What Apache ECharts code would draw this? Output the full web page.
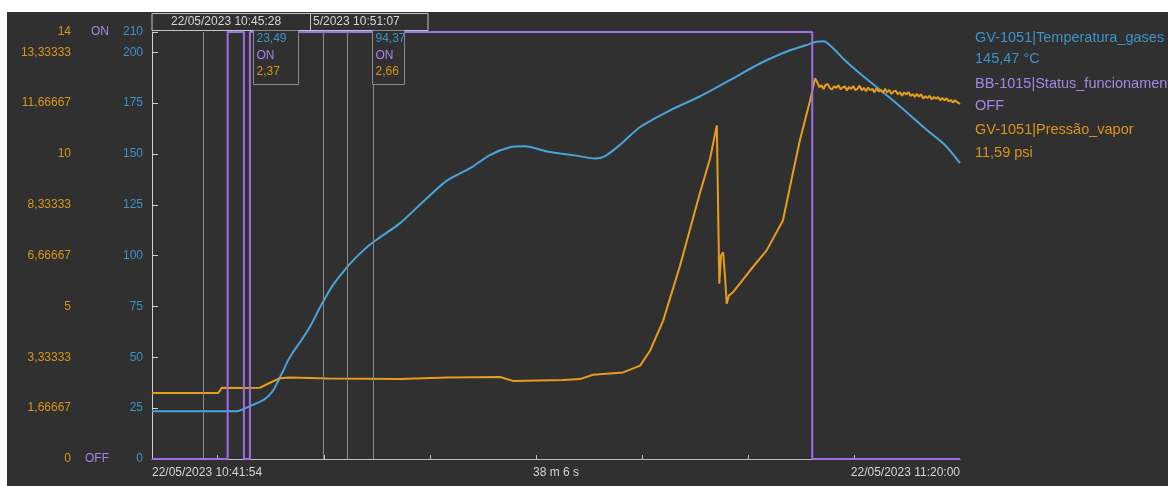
<!DOCTYPE html>
<html><head><meta charset="utf-8">
<script src="https://cdn.jsdelivr.net/npm/echarts@6/dist/echarts.min.js"></script>
<style>
html,body{margin:0;padding:0;background:#ffffff;}
#c{position:absolute;left:7px;top:12px;width:1161px;height:474px;background:#303030;}
</style></head><body><div id="c"></div>
<script>
// ---- x axis (seconds elapsed since 22/05/2023 10:41:54) ----
const startLabel = '22/05/2023 10:41:54';
const endLabel = '22/05/2023 11:20:00';
const spanLabel = '38 m 6 s';
const xMax = 2286;
const xLabelValues = [0, 1143, 2286];
const xTickValues = [186, 486, 786, 1086, 1386, 1686, 1986];

// ---- y axis ticks ----
const tempTicks = [0, 25, 50, 75, 100, 125, 150, 175, 200, 210];
const pressureTicks = [0, 1.66667, 3.33333, 5, 6.66667, 8.33333, 10, 11.66667, 13.33333, 14];
const statusTicks = [0, 1];
const statusNames = ['OFF', 'ON'];

// ---- Temperatura_gases (°C) ----
const tempTime = [0, 136, 240, 277, 320, 342, 356, 371, 385, 399, 413, 427, 450, 475, 510, 552, 588, 617, 645, 702, 770, 835, 900, 956, 1013, 1055, 1118, 1154, 1200, 1253, 1282, 1324, 1381, 1466, 1551, 1635, 1720, 1805, 1850, 1880, 1900, 1924, 1961, 2003, 2096, 2193, 2244, 2286];
const tempValue = [23.5, 23.5, 23.5, 26.0, 29.6, 33.5, 38.0, 43.4, 48.5, 52.5, 56.0, 59.5, 66.0, 74.5, 85.0, 94.4, 101, 105.5, 109, 116, 127, 137, 143, 149.5, 153.3, 153.8, 151.2, 150.3, 149.2, 147.8, 149, 154.5, 163.3, 171.5, 178.4, 186.3, 194.5, 201, 203.5, 205.2, 205.4, 202.5, 196, 189.6, 176.4, 161.7, 154.3, 145.5];

// ---- Pressão_vapor (psi) ----
const pressTime = [0, 187, 198, 260, 306, 334, 362, 390, 500, 702, 835, 985, 1021, 1163, 1211, 1248, 1333, 1381, 1409, 1446, 1494, 1550, 1579, 1598, 1605, 1610, 1616, 1621, 1626, 1632, 1644, 1692, 1739, 1785, 1813, 1833, 1862, 1876,
  1882, 1888, 1894, 1900, 1906, 1912, 1918, 1924, 1930, 1936, 1942, 1948, 1954, 1960, 1966, 1972, 1978, 1984, 1990, 1996, 2002, 2008, 2014, 2020, 2026, 2032, 2038, 2044, 2050, 2056, 2062, 2068, 2074, 2080, 2086, 2092, 2098, 2104, 2110, 2116, 2122, 2128, 2134, 2140, 2146, 2152, 2158, 2164, 2170, 2176, 2182, 2188, 2194, 2200, 2206, 2212, 2218, 2224, 2230, 2236, 2242, 2248, 2254, 2260, 2266, 2272, 2278, 2286];
const pressValue = [2.16, 2.16, 2.34, 2.33, 2.34, 2.50, 2.65, 2.67, 2.64, 2.62, 2.67, 2.69, 2.56, 2.59, 2.62, 2.76, 2.84, 3.06, 3.55, 4.53, 6.34, 8.71, 9.86, 10.94, 5.75, 6.67, 6.78, 6.0, 5.09, 5.36, 5.47, 6.18, 6.84, 7.82, 9.37, 10.45, 11.76, 12.48,
  12.36, 12.19, 12.25, 12.13, 12.27, 12.29, 12.16, 12.12, 12.22, 12.17, 12.26, 12.12, 12.18, 12.22, 12.08, 12.20, 12.13, 12.23, 12.09, 12.14, 12.24, 12.09, 12.17, 12.06, 12.18, 12.09, 12.14, 12.02, 12.16, 12.05, 12.10, 12.01, 12.14, 12.02, 12.10, 11.97, 12.05, 12.08, 11.96, 12.03, 11.91, 12.02, 11.95, 12.03, 11.90, 11.96, 11.87, 11.97, 11.88, 11.96, 11.82, 11.90, 11.83, 11.91, 11.79, 11.87, 11.81, 11.87, 11.76, 11.84, 11.76, 11.83, 11.72, 11.77, 11.69, 11.76, 11.70, 11.64];

// ---- Status_funcionamento (0 = OFF, 1 = ON) ----
const statusTime = [0, 214, 260, 277, 1868, 2286];
const statusValue = [0, 1, 0, 1, 0, 0];

// ---- cursors / readouts ----
const cursorTimes = [144, 214, 484, 553, 625];
const readoutTimes = [214, 553];
const readoutTemp = ['23,49', '94,37'];
const readoutStatus = ['ON', 'ON'];
const readoutPress = ['2,37', '2,66'];
const cursorHeader = ['22/05/2023 10:45:28', '5/2023 10:51:07'];

// ---- legend ----
const legendNames = ['GV-1051|Temperatura_gases', 'BB-1015|Status_funcionamento', 'GV-1051|Pressão_vapor'];
const legendValues = ['145,47 °C', 'OFF', '11,59 psi'];

const C_BLUE = '#4aa3da', C_BLUE_T = '#3d92c9';
const C_ORANGE = '#e59d1e', C_ORANGE_T = '#d8951c';
const C_PURPLE = '#9d6fe6', C_PURPLE_T = '#a585e6';
const C_TEXT = '#d6d6d6', C_GRAY = '#8a8a8a';
const FONT = '"Liberation Sans", Arial, sans-serif';

const zip = (a, b) => a.map((t, i) => [t, b[i]]);
const fmtP = v => (Math.abs(v - Math.round(v)) < 1e-6 ? String(Math.round(v)) : v.toFixed(5).replace('.', ','));

const chart = echarts.init(document.getElementById('c'), null, {renderer: 'canvas'});
const option = {
  backgroundColor: '#303030',
  animation: false,
  grid: {left: 145, top: 20, right: 208, bottom: 27, containLabel: false},
  xAxis: {
    type: 'value', min: 0, max: xMax,
    axisLine: {show: true, lineStyle: {color: '#bdbdbd', width: 1}},
    axisTick: {show: true, inside: true, length: 4, customValues: xTickValues, lineStyle: {color: '#bdbdbd'}},
    axisLabel: {
      show: true, customValues: xLabelValues, margin: 8, color: C_TEXT, fontFamily: FONT, fontSize: 12,
      alignMinLabel: 'left', alignMaxLabel: 'right',
      formatter: v => (v === 0 ? startLabel : (v === xMax ? endLabel : spanLabel))
    },
    splitLine: {show: false}
  },
  yAxis: [
    {
      type: 'value', min: 0, max: 210, position: 'left',
      axisLine: {show: true, lineStyle: {color: '#d0d0d0', width: 1}},
      axisTick: {show: true, inside: true, length: 6, customValues: tempTicks, lineStyle: {color: '#d0d0d0'}},
      axisLabel: {customValues: tempTicks, margin: 9, color: C_BLUE_T, fontFamily: FONT, fontSize: 12},
      splitLine: {show: false}
    },
    {
      type: 'value', min: 0, max: 1, position: 'left',
      axisLine: {show: false}, axisTick: {show: false},
      axisLabel: {customValues: statusTicks, margin: 43, color: C_PURPLE_T, fontFamily: FONT, fontSize: 12,
        formatter: v => statusNames[Math.round(v)]},
      splitLine: {show: false}
    },
    {
      type: 'value', min: 0, max: 14, position: 'left',
      axisLine: {show: false}, axisTick: {show: false},
      axisLabel: {customValues: pressureTicks, margin: 81, color: C_ORANGE_T, fontFamily: FONT, fontSize: 12,
        formatter: fmtP},
      splitLine: {show: false}
    }
  ],
  series: [
    {
      name: 'cursors', type: 'line', data: [], xAxisIndex: 0, yAxisIndex: 0, z: 1,
      markLine: {
        silent: true, symbol: 'none', animation: false,
        label: {show: false},
        lineStyle: {color: C_GRAY, width: 1, type: 'solid'},
        data: cursorTimes.map(t => ({xAxis: t}))
      }
    },
    {
      name: legendNames[0], type: 'line', yAxisIndex: 0, data: zip(tempTime, tempValue),
      showSymbol: false, symbol: 'none', smooth: 0.25, lineStyle: {color: C_BLUE, width: 2}, z: 3
    },
    {
      name: legendNames[2], type: 'line', yAxisIndex: 2, data: zip(pressTime, pressValue),
      showSymbol: false, symbol: 'none', lineStyle: {color: C_ORANGE, width: 2}, z: 4
    },
    {
      name: legendNames[1], type: 'line', yAxisIndex: 1, step: 'end', data: zip(statusTime, statusValue),
      showSymbol: false, symbol: 'none', lineStyle: {color: C_PURPLE, width: 2}, z: 5
    }
  ]
};
chart.setOption(option);

// annotations positioned from the axes
const gfx = [];
const plotLeft = chart.convertToPixel({xAxisIndex: 0}, 0);
gfx.push({type: 'rect', shape: {x: plotLeft, y: 1.5, width: 276, height: 17}, style: {fill: '#303030', stroke: '#c4c4c4', lineWidth: 1}, z: 10});
gfx.push({type: 'line', shape: {x1: 303.5, y1: 1.5, x2: 303.5, y2: 18.5}, style: {stroke: '#c4c4c4', lineWidth: 1}, z: 11});
gfx.push({type: 'text', x: 164, y: 10, style: {text: cursorHeader[0], fill: C_TEXT, font: '12px ' + FONT, verticalAlign: 'middle'}, z: 12});
gfx.push({type: 'text', x: 306, y: 10, style: {text: cursorHeader[1], fill: C_TEXT, font: '12px ' + FONT, verticalAlign: 'middle'}, z: 12});
const boxW = [45, 32];
readoutTimes.forEach((t, i) => {
  const px = Math.round(chart.convertToPixel({xAxisIndex: 0}, t)) + 25.5;
  gfx.push({type: 'rect', shape: {x: px, y: 18.5, width: boxW[i], height: 54}, style: {fill: '#303030', stroke: C_GRAY, lineWidth: 1}, z: 10});
  gfx.push({type: 'text', x: px + 3, y: 27, style: {text: readoutTemp[i], fill: C_BLUE_T, font: '12px ' + FONT, verticalAlign: 'middle'}, z: 12});
  gfx.push({type: 'text', x: px + 3, y: 44, style: {text: readoutStatus[i], fill: C_PURPLE_T, font: '12px ' + FONT, verticalAlign: 'middle'}, z: 12});
  gfx.push({type: 'text', x: px + 3, y: 60, style: {text: readoutPress[i], fill: C_ORANGE_T, font: '12px ' + FONT, verticalAlign: 'middle'}, z: 12});
});
const legColors = [C_BLUE_T, C_PURPLE_T, C_ORANGE_T];
legendNames.forEach((n, i) => {
  gfx.push({type: 'text', x: 968, y: 26 + i * 46, style: {text: n, fill: legColors[i], font: '14.5px ' + FONT, verticalAlign: 'middle'}, z: 12});
  gfx.push({type: 'text', x: 968, y: 47 + i * 47, style: {text: legendValues[i], fill: legColors[i], font: '14.5px ' + FONT, verticalAlign: 'middle'}, z: 12});
});
chart.setOption({graphic: gfx});
</script></body></html>
